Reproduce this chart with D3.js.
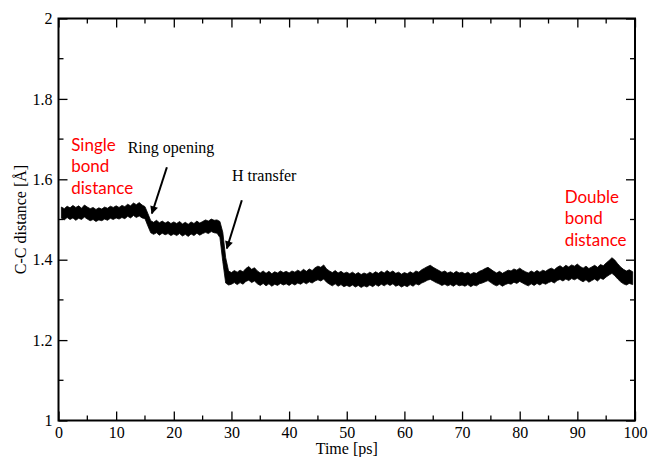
<!DOCTYPE html>
<html>
<head>
<meta charset="utf-8">
<script src="https://d3js.org/d3.v7.min.js"></script>
<style>
  body { margin: 0; background: #fff; }
  svg { font-family: "Liberation Serif", "Times New Roman", serif; }
  .red { fill: #ff0000; font-family: Lato, "Open Sans", sans-serif; font-size: 17px; }
  .note { fill: #000; font-size: 16px; }
  .tick text { font-family: "Liberation Serif", "Times New Roman", serif; font-size: 16px; fill: #000; }
</style>
</head>
<body>
<svg id="chart1" width="649" height="457"></svg>
<script>
  // sampling times (ps) and the upper / lower edge of the noisy trace
  var times = [0.5,1,1.5,2,2.5,3,3.5,4,4.5,5,5.5,6,6.5,7,7.5,8,8.5,9,9.5,10,
    10.5,11,11.5,12,12.5,13,13.5,14,14.5,15,15.5,16,16.5,17,17.5,18,18.5,19,19.5,20,
    20.5,21,21.5,22,22.5,23,23.5,24,24.5,25,25.5,26,26.5,27,27.5,28,28.5,29,29.5,30,
    30.5,31,31.5,32,32.5,33,33.5,34,34.5,35,35.5,36,36.5,37,37.5,38,38.5,39,39.5,40,
    40.5,41,41.5,42,42.5,43,43.5,44,44.5,45,45.5,46,46.5,47,47.5,48,48.5,49,49.5,50,
    50.5,51,51.5,52,52.5,53,53.5,54,54.5,55,55.5,56,56.5,57,57.5,58,58.5,59,59.5,60,
    60.5,61,61.5,62,62.5,63,63.5,64,64.5,65,65.5,66,66.5,67,67.5,68,68.5,69,69.5,70,
    70.5,71,71.5,72,72.5,73,73.5,74,74.5,75,75.5,76,76.5,77,77.5,78,78.5,79,79.5,80,
    80.5,81,81.5,82,82.5,83,83.5,84,84.5,85,85.5,86,86.5,87,87.5,88,88.5,89,89.5,90,
    90.5,91,91.5,92,92.5,93,93.5,94,94.5,95,95.5,96,96.5,97,97.5,98,98.5,99,99.6];
  var upper = [1.531,1.527,1.533,1.529,1.535,1.530,1.534,1.528,1.536,1.531,1.527,1.530,1.525,1.529,1.526,1.531,1.528,1.533,1.530,1.534,
    1.530,1.535,1.532,1.538,1.534,1.541,1.537,1.542,1.536,1.532,1.515,1.497,1.493,1.498,1.492,1.496,1.491,1.495,1.490,1.494,
    1.490,1.495,1.489,1.493,1.488,1.494,1.490,1.496,1.491,1.495,1.499,1.496,1.501,1.498,1.499,1.495,1.468,1.405,1.372,1.368,
    1.373,1.369,1.374,1.370,1.378,1.383,1.376,1.380,1.372,1.367,1.372,1.366,1.371,1.365,1.370,1.367,1.372,1.368,1.371,1.367,
    1.372,1.369,1.374,1.370,1.376,1.371,1.377,1.373,1.380,1.384,1.381,1.387,1.377,1.372,1.368,1.373,1.367,1.371,1.366,1.369,
    1.365,1.369,1.364,1.368,1.363,1.367,1.364,1.369,1.365,1.370,1.366,1.371,1.367,1.373,1.368,1.372,1.366,1.369,1.364,1.368,
    1.365,1.370,1.366,1.372,1.369,1.375,1.379,1.383,1.386,1.381,1.377,1.373,1.369,1.372,1.367,1.370,1.366,1.371,1.367,1.369,
    1.365,1.369,1.364,1.368,1.366,1.371,1.374,1.378,1.381,1.376,1.371,1.367,1.371,1.366,1.370,1.374,1.372,1.377,1.374,1.379,
    1.374,1.370,1.367,1.372,1.368,1.373,1.369,1.374,1.371,1.376,1.379,1.375,1.381,1.385,1.380,1.386,1.382,1.387,1.384,1.389,
    1.383,1.379,1.384,1.378,1.382,1.386,1.381,1.388,1.385,1.392,1.398,1.405,1.399,1.390,1.382,1.376,1.372,1.375,1.370];
  var lower = [1.503,1.499,1.505,1.500,1.504,1.498,1.503,1.500,1.506,1.501,1.497,1.500,1.495,1.499,1.497,1.501,1.498,1.503,1.500,1.504,
    1.501,1.505,1.502,1.508,1.504,1.510,1.505,1.509,1.504,1.502,1.484,1.467,1.463,1.467,1.461,1.466,1.462,1.465,1.460,1.464,
    1.460,1.465,1.459,1.463,1.458,1.464,1.460,1.466,1.461,1.465,1.468,1.465,1.470,1.467,1.466,1.455,1.395,1.342,1.337,1.339,
    1.343,1.338,1.343,1.339,1.346,1.349,1.343,1.347,1.340,1.336,1.341,1.335,1.340,1.334,1.339,1.336,1.341,1.337,1.340,1.336,
    1.341,1.337,1.342,1.339,1.344,1.340,1.345,1.342,1.347,1.350,1.347,1.352,1.344,1.339,1.335,1.340,1.334,1.338,1.333,1.336,
    1.333,1.337,1.332,1.336,1.331,1.335,1.332,1.337,1.333,1.338,1.334,1.339,1.335,1.340,1.336,1.340,1.334,1.337,1.332,1.336,
    1.333,1.338,1.334,1.340,1.337,1.342,1.345,1.349,1.351,1.347,1.343,1.340,1.336,1.339,1.335,1.338,1.334,1.339,1.335,1.337,
    1.334,1.338,1.333,1.337,1.335,1.340,1.342,1.345,1.348,1.343,1.338,1.335,1.339,1.334,1.338,1.341,1.339,1.344,1.341,1.346,
    1.342,1.338,1.335,1.340,1.336,1.341,1.337,1.342,1.339,1.343,1.346,1.342,1.348,1.351,1.347,1.352,1.348,1.353,1.350,1.354,
    1.349,1.345,1.350,1.344,1.348,1.352,1.347,1.354,1.351,1.357,1.362,1.366,1.360,1.352,1.345,1.340,1.337,1.341,1.338];

  var xTicks = [0,10,20,30,40,50,60,70,80,90,100];
  var xMinor = [5,15,25,35,45,55,65,75,85,95];
  var yTicks = [1,1.2,1.4,1.6,1.8,2];
  var yMinor = [1.1,1.3,1.5,1.7,1.9];

  var redLeft = ["Single","bond","distance"];
  var redRight = ["Double","bond","distance"];

  var margin = {top: 18.5, right: 14, bottom: 36.5, left: 58.5},
      width = 649 - margin.left - margin.right,
      height = 457 - margin.top - margin.bottom;

  var x = d3.scaleLinear().domain([0,100]).range([0,width]);
  var y = d3.scaleLinear().domain([1,2]).range([height,0]);

  var svg = d3.select("#chart1");
  var g = svg.append("g")
    .attr("transform","translate(" + margin.left + "," + margin.top + ")");

  svg.append("defs").append("marker")
    .attr("id","arrow")
    .attr("viewBox","0 0 10 10")
    .attr("refX",9).attr("refY",5)
    .attr("markerWidth",10).attr("markerHeight",8)
    .attr("markerUnits","userSpaceOnUse")
    .attr("orient","auto")
    .append("path").attr("d","M0,0L10,5L0,10z").attr("fill","#000");

  var band = times.map(function(t,i){ return {t: t, hi: upper[i], lo: lower[i]}; });

  // trace band
  g.append("path")
    .datum(band)
    .attr("fill","#000")
    .attr("stroke","#000")
    .attr("stroke-width",0.8)
    .attr("d", d3.area()
      .x(function(d){ return x(d.t); })
      .y0(function(d){ return y(d.lo); })
      .y1(function(d){ return y(d.hi); }));

  // ticks on all four sides, pointing inward
  var gx = g.append("g").attr("transform","translate(0," + height + ")")
    .call(d3.axisBottom(x).tickValues(xTicks).tickSize(-9).tickPadding(6).tickFormat(d3.format("")));
  gx.selectAll(".minor").data(xMinor).enter().append("line")
    .attr("x1",function(d){return x(d);}).attr("x2",function(d){return x(d);})
    .attr("y1",0).attr("y2",-5).attr("stroke","#000");

  var gt = g.append("g")
    .call(d3.axisTop(x).tickValues(xTicks).tickSize(-9).tickFormat(""));
  gt.selectAll(".minor").data(xMinor).enter().append("line")
    .attr("x1",function(d){return x(d);}).attr("x2",function(d){return x(d);})
    .attr("y1",0).attr("y2",5).attr("stroke","#000");

  var gy = g.append("g")
    .call(d3.axisLeft(y).tickValues(yTicks).tickSize(-9).tickPadding(6).tickFormat(d3.format("")));
  gy.selectAll(".minor").data(yMinor).enter().append("line")
    .attr("y1",function(d){return y(d);}).attr("y2",function(d){return y(d);})
    .attr("x1",0).attr("x2",5).attr("stroke","#000");

  var gr = g.append("g").attr("transform","translate(" + width + ",0)")
    .call(d3.axisRight(y).tickValues(yTicks).tickSize(-9).tickFormat(""));
  gr.selectAll(".minor").data(yMinor).enter().append("line")
    .attr("y1",function(d){return y(d);}).attr("y2",function(d){return y(d);})
    .attr("x1",0).attr("x2",-5).attr("stroke","#000");

  [gx,gt,gy,gr].forEach(function(a){
    a.attr("font-family", null).attr("font-size", null);
    a.select(".domain").remove();
    a.selectAll("line").attr("stroke-width",1.3);
  });

  // frame
  g.append("rect")
    .attr("x",0).attr("y",0).attr("width",width).attr("height",height)
    .attr("fill","none").attr("stroke","#000").attr("stroke-width",2);

  // axis titles
  svg.append("text")
    .attr("x", margin.left + width/2).attr("y", 454)
    .attr("text-anchor","middle").style("font-size","16px")
    .text("Time [ps]");
  svg.append("text")
    .attr("transform","translate(26," + (margin.top + height/2) + ") rotate(-90)")
    .attr("text-anchor","middle").style("font-size","16px")
    .text("C-C distance [\u00C5]");

  // red labels
  var leftBase = [1.670,1.617,1.563];
  g.selectAll(".redL").data(redLeft).enter().append("text")
    .attr("class","red")
    .attr("x", x(2.2)).attr("y", function(d,i){ return y(leftBase[i]); })
    .text(function(d){ return d; });
  var rightBase = [1.541,1.488,1.434];
  g.selectAll(".redR").data(redRight).enter().append("text")
    .attr("class","red")
    .attr("x", x(87.8)).attr("y", function(d,i){ return y(rightBase[i]); })
    .text(function(d){ return d; });

  // event notes and arrows
  g.append("text").attr("class","note").attr("x",x(12.0)).attr("y",y(1.665)).text("Ring opening");
  g.append("text").attr("class","note").attr("x",x(30.1)).attr("y",y(1.596)).text("H transfer");

  g.append("line")
    .attr("x1",x(18.8)).attr("y1",y(1.630)).attr("x2",x(16.2)).attr("y2",y(1.515))
    .attr("stroke","#000").attr("stroke-width",2).attr("marker-end","url(#arrow)");
  g.append("line")
    .attr("x1",x(31.8)).attr("y1",y(1.548)).attr("x2",x(29.2)).attr("y2",y(1.428))
    .attr("stroke","#000").attr("stroke-width",2).attr("marker-end","url(#arrow)");
</script>
</body>
</html>
